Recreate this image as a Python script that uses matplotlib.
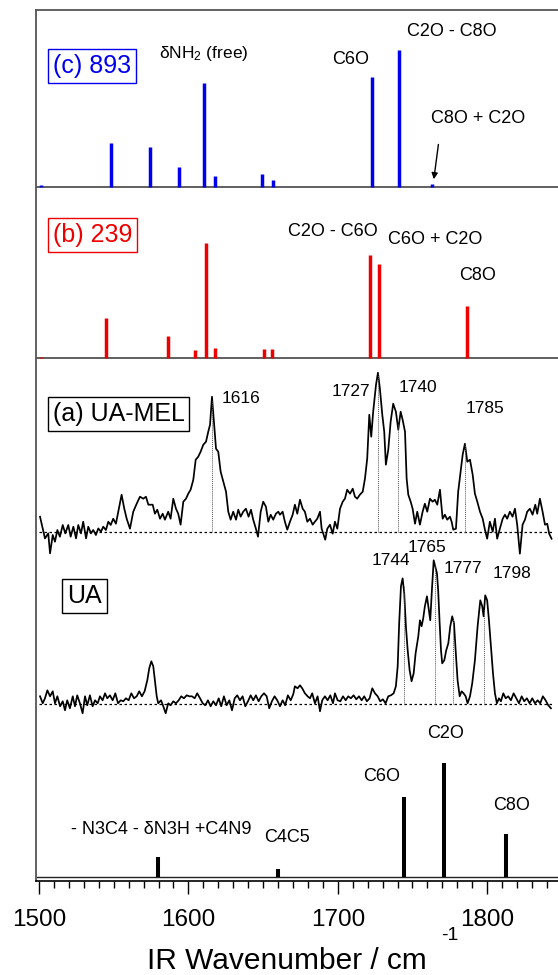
import numpy as np
import matplotlib
matplotlib.use("Agg")
import matplotlib.pyplot as plt
from matplotlib.ticker import MultipleLocator

plt.rcParams['font.family'] = ['Liberation Sans', 'DejaVu Sans']
plt.rcParams['mathtext.fontset'] = 'custom'
plt.rcParams['mathtext.rm'] = 'Liberation Sans'
plt.rcParams['mathtext.default'] = 'regular'

# ---------------- data ----------------
# (c) 893 calculated sticks (blue)
c_wn = [1501.3, 1547.9, 1574.2, 1593.5, 1610.2, 1617.5, 1649.2, 1656.6, 1722.6, 1741.2, 1763.3]
c_int = [1.5, 44, 40, 20, 104, 11, 12.6, 6.7, 110, 136.7, 2.7]

# (b) 239 calculated sticks (red)
b_wn = [1501.3, 1544.9, 1586.1, 1604.2, 1611.6, 1617.5, 1650.9, 1655.7, 1721.3, 1727.7, 1786.5]
b_int = [1.5, 40, 22.6, 8, 115, 10, 9, 9, 103.6, 94, 52.3]

# UA calculated sticks (black)
u_wn = [1579.7, 1659.8, 1744.5, 1771.3, 1812.8]
u_int = [19.3, 7.3, 79.3, 114, 42.7]

# (a) UA-MEL experimental spectrum
mel_wn = [1500.7, 1502.5, 1504.0, 1506.2, 1507.4, 1509.2, 1510.7, 1512.3, 1514.0, 1515.9,
          1517.6, 1519.6, 1521.2, 1523.0, 1524.8, 1526.3, 1528.1, 1529.6, 1531.5, 1533.0,
          1534.8, 1536.3, 1538.1, 1539.7, 1541.5, 1543.0, 1544.8, 1546.4, 1548.0, 1549.7,
          1551.5, 1553.1, 1555.3, 1557.1, 1558.7, 1560.9, 1563.1, 1565.4, 1567.6, 1569.8,
          1571.6, 1573.2, 1576.1, 1577.6, 1579.2, 1581.0, 1582.8, 1584.3, 1586.5, 1588.1,
          1589.9, 1591.7, 1593.2, 1594.8, 1596.6, 1598.4, 1599.9, 1601.5, 1603.3, 1604.9,
          1606.6, 1608.2, 1610.0, 1611.8, 1613.3, 1614.5, 1615.8, 1617.1, 1618.5, 1620.0,
          1621.6, 1623.4, 1625.2, 1626.7, 1628.3, 1630.0, 1631.9, 1633.4, 1635.0, 1636.7,
          1638.5, 1640.3, 1641.9, 1643.4, 1645.2, 1646.6, 1648.4, 1650.1, 1651.9, 1653.5,
          1655.1, 1656.8, 1658.6, 1660.2, 1661.3, 1663.1, 1664.6, 1666.2, 1668.0, 1669.8,
          1671.3, 1672.9, 1674.7, 1676.5, 1678.0, 1679.6, 1681.4, 1683.2, 1684.7, 1686.3,
          1688.1, 1689.2, 1690.3, 1691.6, 1693.0, 1694.8, 1696.6, 1698.1, 1699.7, 1701.5,
          1703.3, 1704.8, 1706.3, 1708.2, 1710.0, 1711.5, 1713.0, 1714.8, 1716.7, 1718.2,
          1719.7, 1721.1, 1722.4, 1723.7, 1725.6, 1726.9, 1728.2, 1729.8, 1731.1, 1732.2,
          1733.8, 1735.4, 1737.1, 1738.9, 1740.5, 1742.1, 1743.4, 1745.0, 1746.1, 1747.2,
          1748.8, 1750.1, 1751.7, 1753.2, 1755.0, 1756.8, 1758.3, 1759.9, 1761.7, 1763.5,
          1765.0, 1766.6, 1768.4, 1770.2, 1771.7, 1773.3, 1775.1, 1776.2, 1777.3, 1779.1,
          1780.6, 1782.2, 1783.6, 1785.1, 1786.7, 1788.5, 1790.3, 1791.8, 1793.4, 1795.2,
          1797.0, 1798.5, 1800.0, 1801.8, 1803.7, 1805.2, 1806.7, 1808.5, 1810.4, 1811.9,
          1813.4, 1815.2, 1817.0, 1818.6, 1820.1, 1821.9, 1823.7, 1825.3, 1826.8, 1828.6,
          1830.4, 1832.2, 1833.5, 1835.3, 1837.1, 1838.7, 1840.2, 1841.5, 1843.1]
mel_int = [15, 3, -6.7, -1.7, -21.7, -3.3, -10, 1.7, -5, 6.7,
           -1.7, 6.7, -5, 5, -6.7, 6.7, -1.7, 10, -6.7, 5,
           -1.7, 1.7, -3.3, 3.3, 0, 5, 1.7, 10, 6.7, 13,
           8, 20, 37, 23, 13, 3, 20, 28, 35, 33,
           35, 27, 27, 18, 22, 13, 18, 12, 20, 13,
           33, 23, 18, 7, 30, 33, 38, 42, 52, 72,
           75, 80, 87, 90, 100, 107, 135, 110, 83, 80,
           60, 50, 40, 20, 12, 20, 12, 22, 15, 20,
           23, 15, 22, 12, 3, -5, 20, 30, 25, 10,
           17, 12, 18, 20, 17, 20, 10, 2, 10, 17,
           27, 18, 32, 23, 20, 10, 13, 7, 10, 13,
           20, 3, -2, -8, 3, 7, -2, 10, 3, 23,
           30, 33, 42, 38, 43, 35, 33, 37, 40, 53,
           73, 117, 95, 120, 147, 159, 143, 117, 100, 67,
           82, 110, 128, 120, 102, 120, 112, 100, 53, 37,
           30, 23, 8, 20, 7, 20, 28, 20, 33, 30,
           32, 27, 42, 13, 17, 12, 15, 10, 2, 3,
           40, 60, 77, 88, 70, 72, 57, 38, 30, 20,
           13, 2, -7, 10, 0, 13, -7, 3, 13, 17,
           13, 20, 15, 23, 7, -22, 7, 12, 20, 23,
           17, 27, 18, 33, 20, 7, 8, -2, -7]
mel_peaks = [1616, 1727, 1740, 1785]

# UA experimental spectrum
ua_wn = [1500.7, 1502.5, 1504.0, 1505.6, 1507.4, 1509.2, 1510.7, 1512.3, 1514.1, 1515.9,
         1517.4, 1518.9, 1520.7, 1522.6, 1524.1, 1525.6, 1527.4, 1529.2, 1530.8, 1532.3,
         1534.1, 1535.9, 1537.5, 1539.3, 1540.8, 1542.6, 1544.2, 1545.7, 1547.5, 1549.3,
         1551.1, 1552.9, 1554.7, 1556.4, 1558.2, 1560.0, 1561.8, 1563.6, 1565.4, 1567.1,
         1568.9, 1570.7, 1572.5, 1573.8, 1575.2, 1576.5, 1577.6, 1578.8, 1579.8, 1581.7,
         1583.2, 1584.8, 1586.5, 1588.1, 1589.9, 1591.7, 1593.5, 1595.2, 1597.0, 1598.9,
         1600.6, 1602.4, 1604.2, 1605.9, 1607.8, 1609.6, 1611.3, 1613.1, 1614.9, 1616.7,
         1618.5, 1620.3, 1622.0, 1623.8, 1625.6, 1627.4, 1629.2, 1631.0, 1632.7, 1634.5,
         1636.3, 1638.1, 1639.9, 1641.7, 1643.4, 1645.2, 1647.0, 1648.8, 1650.6, 1652.4,
         1654.1, 1655.9, 1657.7, 1659.5, 1661.3, 1663.1, 1664.8, 1666.6, 1668.5, 1670.2,
         1671.3, 1673.1, 1674.7, 1676.2, 1678.0, 1679.8, 1681.4, 1682.9, 1684.7, 1686.5,
         1688.1, 1689.6, 1691.4, 1693.2, 1695.0, 1696.8, 1698.1, 1699.9, 1701.7, 1703.5,
         1705.3, 1707.0, 1708.8, 1710.6, 1712.4, 1714.2, 1716.0, 1717.7, 1719.5, 1721.3,
         1723.1, 1724.9, 1726.7, 1728.4, 1730.2, 1732.0, 1733.8, 1735.6, 1737.4, 1738.9,
         1740.1, 1741.1, 1742.3, 1743.4, 1744.5, 1745.6, 1746.8, 1748.1, 1749.4, 1750.8,
         1752.1, 1753.9, 1755.0, 1756.1, 1757.2, 1758.3, 1759.7, 1761.0, 1761.9, 1763.0,
         1764.2, 1765.2, 1766.4, 1767.2, 1768.2, 1769.1, 1769.9, 1771.3, 1772.6, 1774.0,
         1775.3, 1776.6, 1777.8, 1778.9, 1780.2, 1781.6, 1782.9, 1784.2, 1785.6, 1786.9,
         1788.5, 1790.0, 1791.8, 1793.6, 1795.4, 1796.7, 1797.6, 1798.7, 1800.0, 1801.2,
         1802.5, 1803.9, 1805.2, 1806.5, 1807.9, 1809.2, 1810.8, 1812.4, 1814.1, 1815.9,
         1817.7, 1819.5, 1821.3, 1823.1, 1824.8, 1826.6, 1828.4, 1830.2, 1832.0, 1833.8,
         1835.5, 1837.3, 1839.1, 1840.9, 1842.7]
ua_int = [8, 1, 6, 14, 8, 13, 1, 8, -2, 3,
          -6, 4, -4, 8, -2, 9, 1, -9, 8, -1,
          9, -2, 4, 1, 8, 4, 11, 6, 9, 4,
          11, 1, 4, 3, 6, 4, 11, 6, 8, 13,
          8, 13, 24, 36, 43, 38, 24, 8, 1, 4,
          -2, -9, 1, -1, 3, 1, 4, 8, 6, 9,
          8, 8, 6, 11, 6, 1, -1, 4, -2, 3,
          -1, 6, -2, 8, -1, 4, -6, 6, 9, 4,
          8, -2, 3, 9, 4, 9, 3, 8, 11, 8,
          -4, 3, 8, 4, -2, 4, -1, 9, 4, 10,
          18, 16, 19, 16, 11, 8, 6, 11, 1, 8,
          -7, 4, 8, 4, 9, 1, 11, 4, 3, 8,
          4, 8, 6, 9, 5, 8, 4, 8, 3, 6,
          16, 11, 8, 3, 5, 1, 8, 9, 11, 18,
          38, 81, 118, 126, 111, 78, 54, 34, 23, 31,
          51, 68, 84, 78, 86, 98, 108, 94, 84, 114,
          144, 138, 131, 114, 81, 54, 41, 44, 54, 61,
          78, 88, 81, 54, 24, 8, 13, 11, 8, 1,
          8, 21, 44, 78, 104, 98, 88, 109, 104, 84,
          58, 31, 11, 1, 6, 3, 11, 6, 8, 4,
          11, 6, 1, 8, 3, 6, 1, 6, 1, 4,
          1, 8, 4, -1, -4]
ua_peaks = [1744, 1765, 1777, 1798]

x_ticks = [1500, 1600, 1700, 1800]
x_label = "IR Wavenumber / cm"

# ---------------- layout ----------------
W, H = 558, 975
fig = plt.figure(figsize=(W / 100, H / 100), dpi=100)
ax_left, ax_right_px, ax_top, ax_bot = 36, 576.8, 10, 880.7
ax = fig.add_axes([ax_left / W, (H - ax_bot) / H, (ax_right_px - ax_left) / W, (ax_bot - ax_top) / H])
ax.set_xlim(1498, 1860)
ax.set_ylim(0, ax_bot - ax_top)

OFF_C, OFF_B, OFF_MEL, OFF_UA, OFF_U = 694, 522.4, 349, 176.4, 4
spec_end = 1845

# separators / baselines
ax.hlines(OFF_C, 1498, 1860, color='#444444', lw=1.2)
ax.hlines(OFF_B, 1498, 1860, color='#444444', lw=1.2)
ax.hlines(OFF_U, 1498, 1860, color='#222222', lw=1.0)

# sticks
ax.vlines(c_wn, OFF_C, OFF_C + np.array(c_int), color='#0000ee', lw=2.5)
ax.vlines(b_wn, OFF_B, OFF_B + np.array(b_int), color='#ee0000', lw=2.5)
ax.vlines(u_wn, OFF_U, OFF_U + np.array(u_int), color='black', lw=2.9)

# spectra
for wn, it, off, peaks in [(mel_wn, mel_int, OFF_MEL, mel_peaks), (ua_wn, ua_int, OFF_UA, ua_peaks)]:
    wn = np.array(wn); it = np.array(it)
    ax.plot(wn, it + off, color='black', lw=1.25)
    ax.hlines(off, 1500, spec_end, color='black', lw=0.9, linestyles=(0, (2, 2)))
    for p in peaks:
        ax.vlines(p, off, off + np.interp(p, wn, it), color='#555555', lw=0.7, linestyles=(0, (1, 1)))

# axis styling
ax.spines['right'].set_visible(False)
ax.spines['left'].set_color('#555555')
ax.spines['top'].set_color('#555555')
ax.spines['left'].set_linewidth(1.3)
ax.spines['top'].set_linewidth(1.3)
ax.spines['bottom'].set_linewidth(1.2)
ax.set_yticks([])
ax.set_xticks(x_ticks)
ax.xaxis.set_minor_locator(MultipleLocator(10))
ax.tick_params(axis='x', which='major', direction='out', length=9.5, width=1.0, labelsize=17.5, pad=11)
ax.tick_params(axis='x', which='minor', direction='out', length=5, width=1.0)

fig.text(286.5 / W, 1 - 960.7 / H, x_label, ha='center', va='center', fontsize=21.5)
fig.text(450 / W, 1 - 935 / H, "-1", ha='center', va='center', fontsize=14)

def px2d(x, y):
    return 1500 + (x - 39) / 1.494, ax_bot - y

def label(x, y, s, size=13, color='black', box=None):
    dx, dy = px2d(x, y)
    kw = {}
    if box:
        kw['bbox'] = dict(boxstyle='square,pad=0.2', fc='white', ec=box, lw=1.0)
    ax.text(dx, dy, s, ha='center', va='center', fontsize=size, color=color, **kw)

# panel labels
label(92.2, 65.5, "(c) 893", 18, '#0000ee', '#0000ee')
label(92.5, 234.7, "(b) 239", 18, '#ee0000', '#ee0000')
label(118.5, 413.7, "(a) UA-MEL", 18, 'black', 'black')
label(84.7, 596.2, "UA", 18, 'black', 'black')

# (c) annotations
label(204.2, 53.3, r"δNH$_2$ (free)", 12.5)
label(350.8, 60, "C6O", 13)
label(452.2, 31.7, "C2O - C8O", 13)
label(477.8, 118.3, "C8O + C2O", 13)
a0 = px2d(438.8, 141.7); a1 = px2d(433.5, 182)
ax.annotate("", xy=a1, xytext=a0, arrowprops=dict(arrowstyle='-|>', color='black', lw=1.0, mutation_scale=9))

# (b) annotations
label(333.3, 231.7, "C2O - C6O", 13)
label(435.5, 240, "C6O + C2O", 13)
label(477.3, 276, "C8O", 13)

# (a) and UA peak labels
for xp, yp, s in [(240.8, 398.3, "1616"), (350.8, 391, "1727"), (418, 387.7, "1740"), (484.7, 408.3, "1785")]:
    label(xp, yp, s, 12.5)
for xp, yp, s in [(390.5, 560.7, "1744"), (427.5, 547.3, "1765"), (462.5, 568.3, "1777"), (512, 573.3, "1798")]:
    label(xp, yp, s, 12.5)

# UA calc annotations
label(161.2, 830, "- N3C4 - δN3H +C4N9", 13)
label(287.5, 838, "C4C5", 13)
label(382, 776.7, "C6O", 13)
label(445.5, 734, "C2O", 13)
label(512, 805, "C8O", 13)

fig.savefig("out.png", dpi=100)
